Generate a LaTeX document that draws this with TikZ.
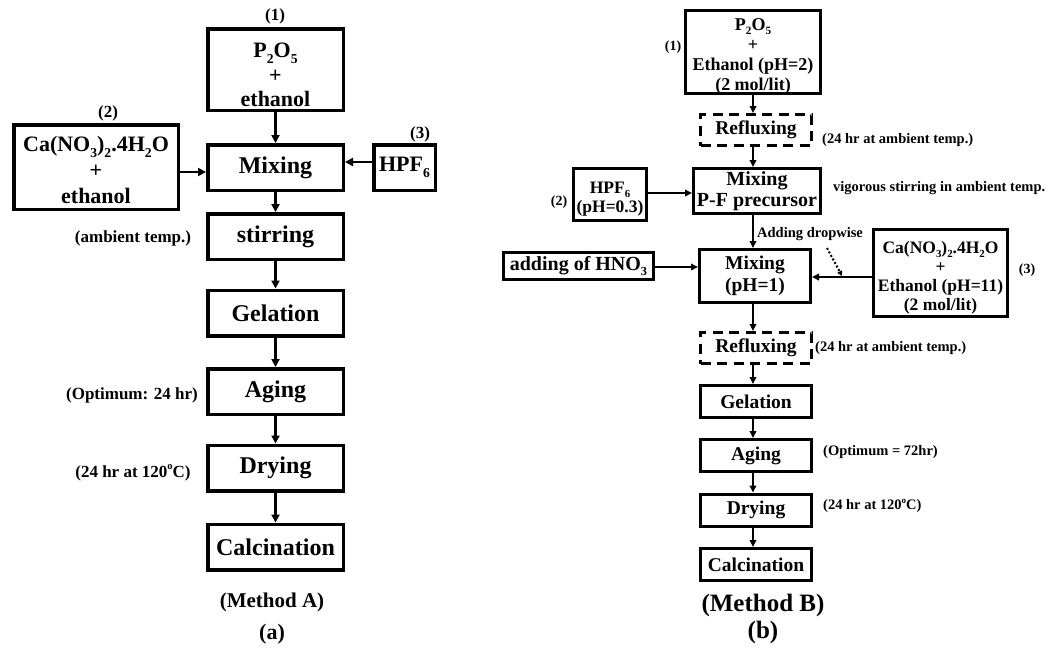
\documentclass[tikz,border=0pt]{standalone}
\usepackage{fontspec}
\usepackage{graphicx}
\setmainfont{Liberation Serif}
\usetikzlibrary{arrows.meta}
\newcommand{\fs}[2]{\fontsize{#1}{#2}\selectfont}
\newcommand{\sbs}[1]{\raisebox{-0.25em}{\scalebox{0.62}{#1}}}
\newcommand{\sps}[1]{\raisebox{0.45em}{\scalebox{0.62}{#1}}}
\newcommand{\tp}[1]{\rule{0pt}{#1}}
\begin{document}
\begin{tikzpicture}[x=1pt,y=-1pt,
  lbox/.style={draw,line width=3.5pt,inner sep=0pt,align=center,font=\bfseries\fs{22}{24}},
  lstep/.style={lbox,minimum width=135.5pt,minimum height=45.5pt,font=\bfseries\fs{24}{26}},
  rbox/.style={draw,line width=3pt,inner sep=0pt,align=center,font=\bfseries\fs{18}{20}},
  rstep/.style={rbox,minimum width=111pt,minimum height=32pt,font=\bfseries\fs{19.5}{21}},
  rdash/.style={rstep,minimum height=31pt,dash pattern=on 10pt off 6.5pt},
  larr/.style={line width=2.6pt,-{Triangle[length=8pt,width=8pt]}},
  rarr/.style={line width=2.2pt,-{Triangle[length=7pt,width=6.5pt]}},
  lab/.style={inner sep=0pt,font=\bfseries\fs{17}{19}},
  rlab/.style={inner sep=0pt,font=\bfseries\fs{14.5}{16}},
  captext/.style={inner sep=0pt,font=\bfseries\fs{22}{24}}]
\useasboundingbox (0,0) rectangle (1059,649);

% ---------------- Method A ----------------
\node[lbox,minimum width=135.5pt,minimum height=81.5pt] (L1) at (275.5,69.5) {\tp{26pt}P\sbs{2}O\sbs{5}\\[1pt]+\\ethanol};
\node[lstep] (Lmix) at (275.5,167.5) {Mixing};
\node[lbox,minimum width=164.5pt,minimum height=84.5pt,font=\bfseries\fs{22}{26}] (L2) at (96,167) {\tp{22pt}Ca(NO\sbs{3})\sbs{2}.4H\sbs{2}O\\+\\ethanol};
\node[lbox,minimum width=61.5pt,minimum height=45.5pt] (L3) at (404.5,167.5) {HPF\sbs{6}};
\node[lstep] (Lstir) at (275.5,236.5) {stirring};
\node[lstep] (Lgel) at (275.5,313) {Gelation};
\node[lstep] (Lage) at (275.5,391.5) {Aging};
\node[lstep] (Ldry) at (275.5,468) {Drying};
\node[lstep] (Lcal) at (275.5,547) {Calcination};

\node[lab] (l1) at (275,16) {(1)};
\node[lab] (l2) at (108,113) {(2)};
\node[lab] (l3) at (420,134) {(3)};
\node[lab] (la1) at (133,238) {(ambient temp.)};
\node[lab] (la2) at (132,395) {(Optimum: 24 hr)};
\node[lab] (la3) at (133,473) {(24 hr at 120\sps{o}C)};
\node[captext,font=\bfseries\fs{21}{23}] (mA) at (272,602) {(Method A)};
\node[captext] (ca) at (272,634) {(a)};

\draw[larr] (L1) -- (Lmix);
\draw[larr] (Lmix) -- (Lstir);
\draw[larr] (Lstir) -- (Lgel);
\draw[larr] (Lgel) -- (Lage);
\draw[larr] (Lage) -- (Ldry);
\draw[larr] (Ldry) -- (Lcal);
\draw[larr] (L2.east |- 0,172) -- (Lmix.west |- 0,172);
\draw[larr] (L3.west |- 0,162) -- (Lmix.east |- 0,162);

% ---------------- Method B ----------------
\node[rbox,minimum width=135pt,minimum height=79pt] (R1) at (753,52) {\tp{20pt}P\sbs{2}O\sbs{5}\\+\\Ethanol (pH=2)\\(2 mol/lit)};
\node[rdash] (Rf1) at (756,130) {Refluxing};
\node[rstep,minimum width=127pt,minimum height=45pt,font=\bfseries\fs{20}{21}] (Rm1) at (757,191) {Mixing\\P-F precursor};
\node[rbox,minimum width=73pt,minimum height=52pt,font=\bfseries\fs{17.5}{19}] (Rh) at (610,194.5) {\tp{20pt}HPF\sbs{6}\\(pH=0.3)};
\node[rstep,minimum height=53pt,font=\bfseries\fs{19.5}{22}] (Rm2) at (755,276) {Mixing\\(pH=1)};
\node[rstep,minimum width=150pt,minimum height=27pt,font=\bfseries\fs{20}{21}] (Rn) at (578.5,266) {adding of HNO\sbs{3}};
\node[rbox,minimum width=134pt,minimum height=87pt,font=\bfseries\fs{17.5}{19}] (Rc) at (940.5,273) {\tp{21pt}Ca(NO\sbs{3})\sbs{2}.4H\sbs{2}O\\+\\Ethanol (pH=11)\\(2 mol/lit)};
\node[rdash] (Rf2) at (756,348) {Refluxing};
\node[rstep] (Rg) at (756,401.5) {Gelation};
\node[rstep] (Ra) at (756,455.5) {Aging};
\node[rstep] (Rd) at (756,510) {Drying};
\node[rstep] (Rcl) at (756,564.5) {Calcination};

\node[rlab,font=\bfseries\fs{14}{15}] (r1) at (673,47) {(1)};
\node[rlab,anchor=west] (rt1) at (822,140) {(24 hr at ambient temp.)};
\node[rlab,anchor=west] (rv) at (833,188) {vigorous stirring in ambient temp.};
\node[rlab,font=\bfseries\fs{14}{15}] (r2) at (559,202) {(2)};
\node[rlab,anchor=west] (rad) at (757,234) {Adding dropwise};
\node[rlab,font=\bfseries\fs{14}{15}] (r3) at (1027,270) {(3)};
\node[rlab,anchor=west] (rt2) at (815,348) {(24 hr at ambient temp.)};
\node[rlab,anchor=west] (ro) at (823,452) {(Optimum = 72hr)};
\node[rlab,anchor=west] (rd) at (823,506) {(24 hr at 120\sps{o}C)};
\node[captext,font=\bfseries\fs{25}{26}] (mB) at (763,605) {(Method B)};
\node[captext,font=\bfseries\fs{25}{26}] (cb) at (763,632) {(b)};

\coordinate (ax) at (753,0);
\draw[rarr] (R1.south -| ax) -- (Rf1.north -| ax);
\draw[rarr] (Rf1.south -| ax) -- (Rm1.north -| ax);
\draw[rarr] (Rm1.south -| ax) -- (Rm2.north -| ax);
\draw[rarr] (Rm2.south -| ax) -- (Rf2.north -| ax);
\draw[rarr] (Rf2.south -| ax) -- (Rg.north -| ax);
\draw[rarr] (Rg.south -| ax) -- (Ra.north -| ax);
\draw[rarr] (Ra.south -| ax) -- (Rd.north -| ax);
\draw[rarr] (Rd.south -| ax) -- (Rcl.north -| ax);
\draw[rarr] (Rh.east |- 0,193) -- (Rm1.west |- 0,193);
\draw[rarr] (Rn.east |- 0,267) -- (Rm2.west |- 0,267);
\draw[rarr] (Rc.west |- 0,277) -- (Rm2.east |- 0,277);
\coordinate (d1) at (827,248);
\coordinate (d2) at (842,276);
\draw[line width=2pt,dotted,-{Triangle[length=5pt,width=5pt]}] (d1) -- (d2);
\end{tikzpicture}
\end{document}
